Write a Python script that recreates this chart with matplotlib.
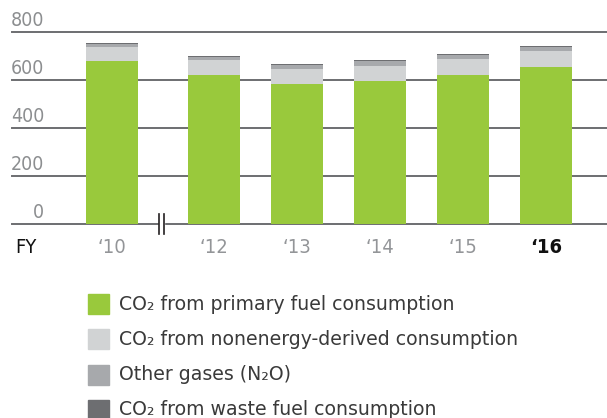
import matplotlib.pyplot as plt
from matplotlib.patches import Rectangle
from matplotlib.lines import Line2D

# data
years = ["\u201810", "\u201812", "\u201813", "\u201814", "\u201815", "\u201816"]
primary = [679, 621, 582, 595, 621, 654]
nonenergy = [58, 62, 62, 64, 67, 67]
other_gases = [12, 12, 20, 21, 18, 17]
waste = [4, 4, 3, 4, 4, 4]
series_labels = ["CO\u2082 from primary fuel consumption",
                 "CO\u2082 from nonenergy-derived consumption",
                 "Other gases (N\u2082O)",
                 "CO\u2082 from waste fuel consumption"]
yticks = [0, 200, 400, 600, 800]

colors = ["#99c93c", "#d1d3d4", "#a7a9ac", "#6d6e71"]

W, H = 607, 418
fig = plt.figure(figsize=(W / 100, H / 100), dpi=100)

# axes placed in pixel units
x0, x1, ytop, ybot = 12, 607, 32, 224
ax = fig.add_axes([x0 / W, 1 - ybot / H, (x1 - x0) / W, (ybot - ytop) / H])

# bar positions: broken axis between '10 and '12
pos = [0, 1.23, 2.23, 3.23, 4.23, 5.23]
ax.set_xlim(-1.205, 5.965)
ax.set_ylim(0, 800)

bottom = [0] * len(years)
for vals, c in zip([primary, nonenergy, other_gases, waste], colors):
    ax.bar(pos, vals, width=0.627, bottom=bottom, color=c, linewidth=0, zorder=3)
    bottom = [b + v for b, v in zip(bottom, vals)]

for t in yticks:
    ax.axhline(t, color="#6d6e71", lw=1.4, zorder=2, clip_on=False)
    ax.annotate(str(t), xy=(0.054, t), xycoords=ax.get_yaxis_transform(),
                xytext=(0, 1.5), textcoords="offset points", ha="right", va="bottom",
                fontsize=14, color="#8c8e90", family="DejaVu Sans",
                fontstretch="condensed")

# axis break mark
bx = (pos[0] + pos[1]) / 2 - 0.02
ax.add_patch(Rectangle((bx - 0.03, -8), 0.06, 16, color="white", zorder=4, clip_on=False))
for dx in (-0.03, 0.03):
    ax.add_line(Line2D([bx + dx, bx + dx], [-40, 40], color="#231f20", lw=1.2,
                       zorder=5, clip_on=False))

for spine in ax.spines.values():
    spine.set_visible(False)
ax.set_xticks([])
ax.set_yticks([])

# x labels
for i, (p, lab) in enumerate(zip(pos, years)):
    last = i == len(years) - 1
    ax.annotate(lab, xy=(p, 0), xycoords=("data", "axes fraction"),
                xytext=(0, -10), textcoords="offset points", ha="center", va="top",
                fontsize=14.5, color="#111111" if last else "#939598",
                family="DejaVu Sans", fontstretch="condensed",
                fontweight="bold" if last else "normal")
ax.annotate("FY", xy=(0.006, 0), xycoords="axes fraction", xytext=(0, -10),
            textcoords="offset points", ha="left", va="top", fontsize=14.5,
            color="#111111", family="DejaVu Sans", fontstretch="condensed")

# legend
for k, (lab, c) in enumerate(zip(series_labels, colors)):
    yc = 304 + k * 35.3
    fig.add_artist(Rectangle((88 / W, 1 - (yc + 10) / H), 21 / W, 20 / H,
                             color=c, transform=fig.transFigure))
    fig.text(119 / W, 1 - yc / H, lab, ha="left", va="center", fontsize=13.6,
             color="#3a3a3a", family="DejaVu Sans")

fig.savefig("out.png", dpi=100)
